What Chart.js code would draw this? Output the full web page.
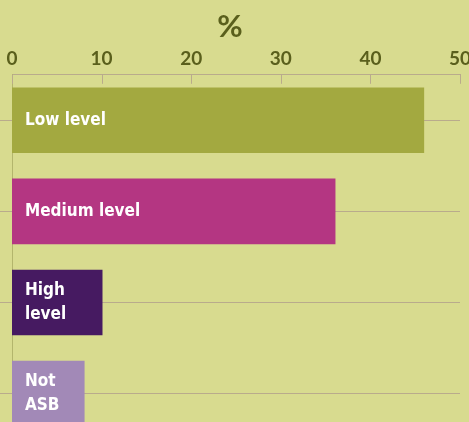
<!DOCTYPE html>
<html>
<head>
<meta charset="utf-8">
<script src="https://cdn.jsdelivr.net/npm/chart.js@4"></script>
<style>
  html, body { margin: 0; padding: 0; background: #d8db8f; overflow: hidden; }
  #wrap { width: 469px; height: 439px; }
</style>
</head>
<body>
<div id="wrap"><canvas id="chart"></canvas></div>
<script>
const categories = [['Low level'], ['Medium level'], ['High', 'level'], ['Not', 'ASB']];
const values = [46, 36.1, 10.1, 8.1];
const barColors = ['#a3a940', '#b43682', '#461a61', '#a289b7'];
const tickValues = [0, 10, 20, 30, 40, 50];

const darkText = '#5a5f1c';
const tan = '#b9ab8c';

// small ticks hanging down from the top axis line
const topTicks = {
    id: 'topTicks',
    afterDatasetsDraw(chart) {
        const ctx = chart.ctx;
        const x = chart.scales.x;
        const top = chart.chartArea.top;
        ctx.save();
        ctx.strokeStyle = tan;
        ctx.lineWidth = 1;
        tickValues.forEach(v => {
            const px = Math.round(x.getPixelForValue(v)) + 0.5;
            ctx.beginPath();
            ctx.moveTo(px, top);
            ctx.lineTo(px, top + 9);
            ctx.stroke();
        });
        ctx.restore();
    }
};

// white category names inside the bars
const barLabels = {
    id: 'barLabels',
    afterDatasetsDraw(chart) {
        const ctx = chart.ctx;
        const meta = chart.getDatasetMeta(0);
        ctx.save();
        ctx.fillStyle = '#ffffff';
        ctx.font = 'bold 17px "DejaVu Sans Condensed", "DejaVu Sans"';
        ctx.textAlign = 'left';
        ctx.textBaseline = 'middle';
        meta.data.forEach((bar, i) => {
            const lines = categories[i];
            const lh = 24;
            const y0 = bar.y - (lines.length - 1) * lh / 2;
            lines.forEach((t, j) => ctx.fillText(t, bar.base + 13, y0 + j * lh));
        });
        ctx.restore();
    }
};

new Chart(document.getElementById('chart'), {
    type: 'bar',
    data: {
        labels: categories,
        datasets: [{
            data: values,
            backgroundColor: barColors,
            borderWidth: 0,
        }]
    },
    options: {
        indexAxis: 'y',
        responsive: true,
        maintainAspectRatio: false,
        animation: false,
        layout: { padding: { top: 0, right: 9, bottom: 0, left: 0 } },
        plugins: {
            legend: { display: false },
            tooltip: { enabled: false },
            title: {
                display: true,
                text: '%',
                color: darkText,
                font: { family: 'Lato', size: 31, weight: 'bold', lineHeight: 0.8 },
                padding: { top: 15, bottom: 4 }
            }
        },
        scales: {
            x: {
                position: 'top',
                min: 0,
                max: 50,
                afterFit(scale) { scale.paddingRight = 0; },
                ticks: {
                    stepSize: 10,
                    color: darkText,
                    padding: 6,
                    maxRotation: 0,
                    font: { family: 'Lato', size: 19, weight: 'bold', lineHeight: 1 }
                },
                grid: { display: false, drawTicks: false, tickLength: 0 },
                border: { display: true, color: tan, width: 1 }
            },
            y: {
                ticks: { display: false },
                grid: { offset: false, color: tan, lineWidth: 1, tickLength: 12, drawTicks: true },
                border: { display: true, color: '#b3b56c', width: 1 }
            }
        }
    },
    plugins: [topTicks, barLabels]
});
</script>
</body>
</html>
